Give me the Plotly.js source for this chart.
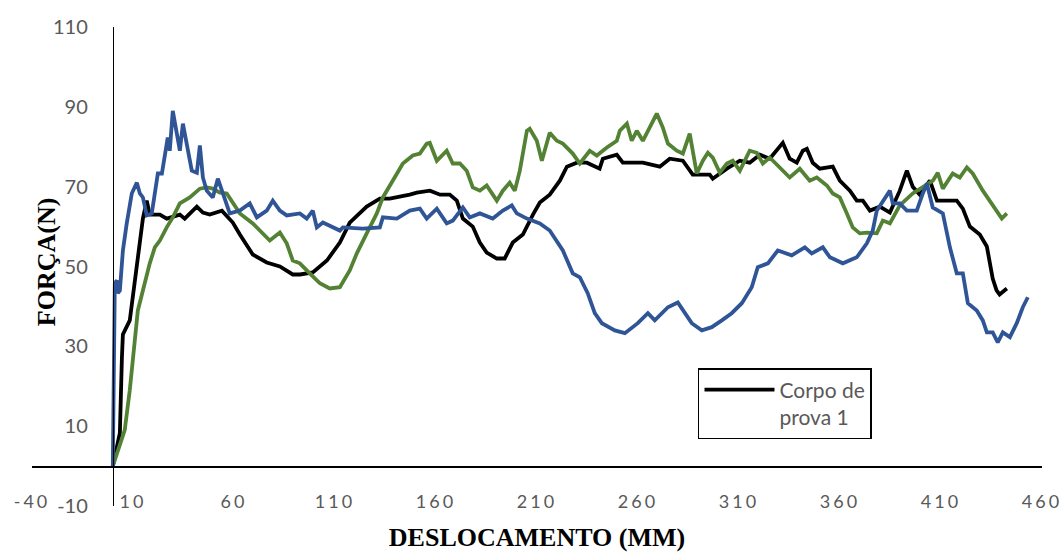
<!DOCTYPE html>
<html>
<head>
<meta charset="utf-8">
<script src="https://cdn.plot.ly/plotly-3.0.1.min.js"></script>
<style>
  html, body { margin: 0; padding: 0; background: #fff; }
  #chart { width: 1063px; height: 552px; }
  .xtick text { letter-spacing: 3px; }
</style>
</head>
<body>
<div id="chart"></div>
<script>
// Corpo de prova 1 (black)
const xBlack = [0,3.5,4.5,5,8.4,9.9,12.4,14.9,16.8,18.3,23.3,26.7,33.2,35.6,41.6,44.6,48,54,59.4,62.9,69.3,76.2,82.7,89.1,92.6,99,106,112.4,117.3,125.7,132.2,137.1,147,150.5,157,162,166.8,170.3,173.3,178.2,181.7,185.1,190.1,194,198,203,208,211.4,216.3,221.3,224.8,229.7,234.7,241,242.6,249.5,252.5,262.4,270.8,275.7,282.2,287.1,295.5,297,304,310.4,315.3,320.3,325.2,330.2,331.7,335.1,338.6,341.6,343.6,346.5,350,356.4,359.9,364.9,368.3,371.3,374.8,379.7,384.7,389.6,393.1,396,399.5,404.5,408,412.9,417.8,420.8,424.3,429.2,432.7,435.6,437.5,439,442.6];
const yBlack = [0,8.3,27,33,36.5,42,52,62,66.5,63,63,62,63,62,65,63.5,63,64,61,58,53,51,50,48,48,48.5,51.5,56,61,65,67,67,68,68.5,69,68,68,66.5,62,60,56,53.5,52,52,56,58,63,66,68,71.5,75,76,76,74.5,77,78,76,76,75,77,76.5,73,73,72,74.5,76.5,76,78,77,80,81,77,76,79,79.5,76,74.5,75,71.5,69,66.5,66.5,64,65,63.5,69,74,70,68,71.5,66.5,66.5,66.5,64.5,60,58,55,47,44,43,44.5];

// Green series
const xGreen = [0,5.9,8.4,9.9,12.4,14.9,18.3,20.8,23.3,26.7,29.7,33.2,38.1,43.1,46.5,49.5,53,56.4,59.4,62.9,69.3,74.3,77.7,82.7,86.1,89.1,92.6,97.5,102.5,107.4,112.4,117.3,120.8,125.7,130.7,133.7,138.6,143.6,148.5,152,155.4,156.9,160.4,165.3,168.3,171.8,175.2,178.2,181.7,185.1,190.1,193.1,196.5,199,201.5,205,206.4,209.9,212.4,214.9,216.3,219.8,222.8,227.7,231.2,236.1,239.6,244.6,249.5,251,254.5,256.9,259.4,262.4,265.8,269.3,272.3,274.8,279.2,282.2,285.6,289.1,292.1,294.6,297,300.5,304,306.9,310.4,315.3,318.8,321.8,325.2,330.2,335.1,340.1,345,348.5,353.5,356.4,359.9,363.4,366.3,369.8,373.3,378.2,381.2,384.7,389.6,396,401,406,408.4,410.9,415.8,419.3,422.8,425.7,430.7,434.2,437.6,440.1,442.6];
const yGreen = [0,9,19,27.3,39,44,50.8,54.8,56.5,59.8,62.3,65.8,67.3,69.5,69.8,69.5,68.5,68.3,65.8,63.3,60.8,58.3,56.5,58.5,55.8,51.5,50.8,48.3,45.8,44.5,44.8,49,53.3,58.3,63.3,67.3,71.5,75.8,77.8,78.3,80.8,81,76.5,79,75.8,75.8,74,69.8,69,70.3,66.5,69,71,69,74,84,84.5,81.5,76.5,80.8,83.5,81.5,80.8,78.3,75.8,79,77.8,79.8,81.5,84,85.8,81.5,84,81.5,84.8,88.3,84.8,80.8,79,78.3,83.3,73.3,76.5,78.5,77.3,73.5,75.8,76.5,74,79,78.5,75.8,77.3,74.8,72.3,74.5,71.5,72.3,70.3,68.3,67.3,63.3,59.8,58.3,58.5,58.3,61.5,60.8,65.3,68.3,69.8,71.5,73.5,69.5,73.3,72.3,74.8,73.3,69,66.5,64,62,63.3];

// Blue series
const xBlue = [0,1,2,2.5,3.5,5,6.9,9.4,11.9,13.4,14.9,16.8,19.3,20.8,22.3,24.3,25.7,27.2,28.2,29.7,31.7,33.2,34.7,37.1,39.1,41.6,43.1,44.6,46.5,49.5,52,54.5,57.9,62.9,67.8,71.3,76.2,79.2,82.7,86.1,92.6,96,99,101,104,112.4,113.9,123.8,132.2,133.7,140.6,147,152,155.4,160.4,165.3,168.3,173.3,176.7,181.7,188.1,193.1,197.5,200,205,211.4,216.3,222.8,227.7,231.2,235.1,238.6,242.1,248.5,253.5,259.9,264.9,268.3,274.8,279.7,283.2,286.6,291.6,296.5,301.5,306.4,311.4,316.3,319.3,324.3,329.2,336.1,342.6,346,351.5,355,361.4,368.3,373.3,376.2,378.2,381.2,384.7,386.1,389.6,393.1,398,401,403,405.9,410.9,414.4,417.8,420.8,423.3,427.7,430.7,432.7,435.6,438.1,440.6,444.1,447.5,450.5,453];
const yBlue = [0,45.8,46.5,43.3,44,54,60.8,68.3,71,68.3,67.3,62.8,63.3,69,73.3,73.3,78.3,82.3,79,89,83.3,79,85.8,79.8,74,73.5,80.3,72.3,69,67.3,72,68.3,63.3,64,65.8,62.3,64,66.5,64,62.8,63.3,62,64,59.8,61,59,59.8,59.5,59.8,62.3,62,64,64.5,62,64.5,60.8,61.5,64.8,62.3,63.3,62,64,65.3,63.3,62,60.8,59,54,48.3,47.3,43.3,38.3,35.8,34,33.3,35.8,38.3,36.5,39.8,41,38.3,35.8,34,34.8,36.5,38.3,40.8,44.8,49.8,50.8,54,52.8,54.8,53.3,54.8,52.3,50.8,52.3,55.8,59,64,66.5,69,65.8,65.8,64,64,68.3,70.8,64.8,63.3,54.8,48.3,48.3,40.8,39,36.5,33.5,33.5,31,33.5,32.3,35.8,39.8,42.3];

const xTicks = [-40,10,60,110,160,210,260,310,360,410,460];
const yTicks = [-10,10,30,50,70,90,110];
const legendName = 'Corpo de<br>prova 1';
const xTitle = 'DESLOCAMENTO (MM)';
const yTitle = 'FORÇA(N)';

const yTickFont = {family: 'Lato, "Open Sans", sans-serif', size: 20, color: '#595959'};
const xTickFont = {family: 'Lato, "Open Sans", sans-serif', size: 18, color: '#595959'};
const titleFont = {family: '"Liberation Serif", "Times New Roman", serif', size: 26, color: '#000', weight: 'bold'};

const traces = [
  {x: xBlack, y: yBlack, type: 'scatter', mode: 'lines', name: legendName,
   line: {color: '#000000', width: 3.8}, showlegend: true},
  {x: xGreen, y: yGreen, type: 'scatter', mode: 'lines', name: 'Corpo de prova 2',
   line: {color: '#548235', width: 3.8}, showlegend: false},
  {x: xBlue, y: yBlue, type: 'scatter', mode: 'lines', name: 'Corpo de prova 3',
   line: {color: '#2F5597', width: 3.8}, showlegend: false}
];

const layout = {
  width: 1063, height: 552,
  margin: {l: 32, r: 21, t: 27, b: 46, pad: 0},
  paper_bgcolor: '#fff', plot_bgcolor: '#fff',
  showlegend: true,
  xaxis: {
    range: [-40, 460], tickvals: xTicks, ticktext: xTicks.map(String),
    showgrid: false, zeroline: false,
    showline: true, linecolor: '#000', linewidth: 1.5,
    anchor: 'free', position: 10/120,
    ticks: '', ticklabelstandoff: 19, ticklabeloverflow: 'allow',
    tickfont: xTickFont,
    title: {text: xTitle, font: titleFont, standoff: 18}
  },
  yaxis: {
    range: [-10, 110], tickvals: yTicks, ticktext: yTicks.map(String),
    showgrid: false, zeroline: false,
    showline: true, linecolor: '#000', linewidth: 1.5,
    anchor: 'free', position: 40/500,
    ticks: '', ticklabelstandoff: 21, ticklabeloverflow: 'allow',
    tickfont: yTickFont
  },
  annotations: [{
    text: yTitle, textangle: -90, font: titleFont, showarrow: false,
    xref: 'paper', yref: 'paper', x: 14/1010, y: 0.509, xanchor: 'center', yanchor: 'middle'
  }],
  legend: {
    x: 0.6594, y: 0.288, xanchor: 'left', yanchor: 'top',
    bordercolor: '#000', borderwidth: 1.5, bgcolor: '#fff',
    font: {family: 'Lato, "Open Sans", sans-serif', size: 21, color: '#595959'},
    valign: 'top', itemwidth: 70
  }
};

Plotly.newPlot('chart', traces, layout, {displayModeBar: false, staticPlot: true});
</script>
</body>
</html>
